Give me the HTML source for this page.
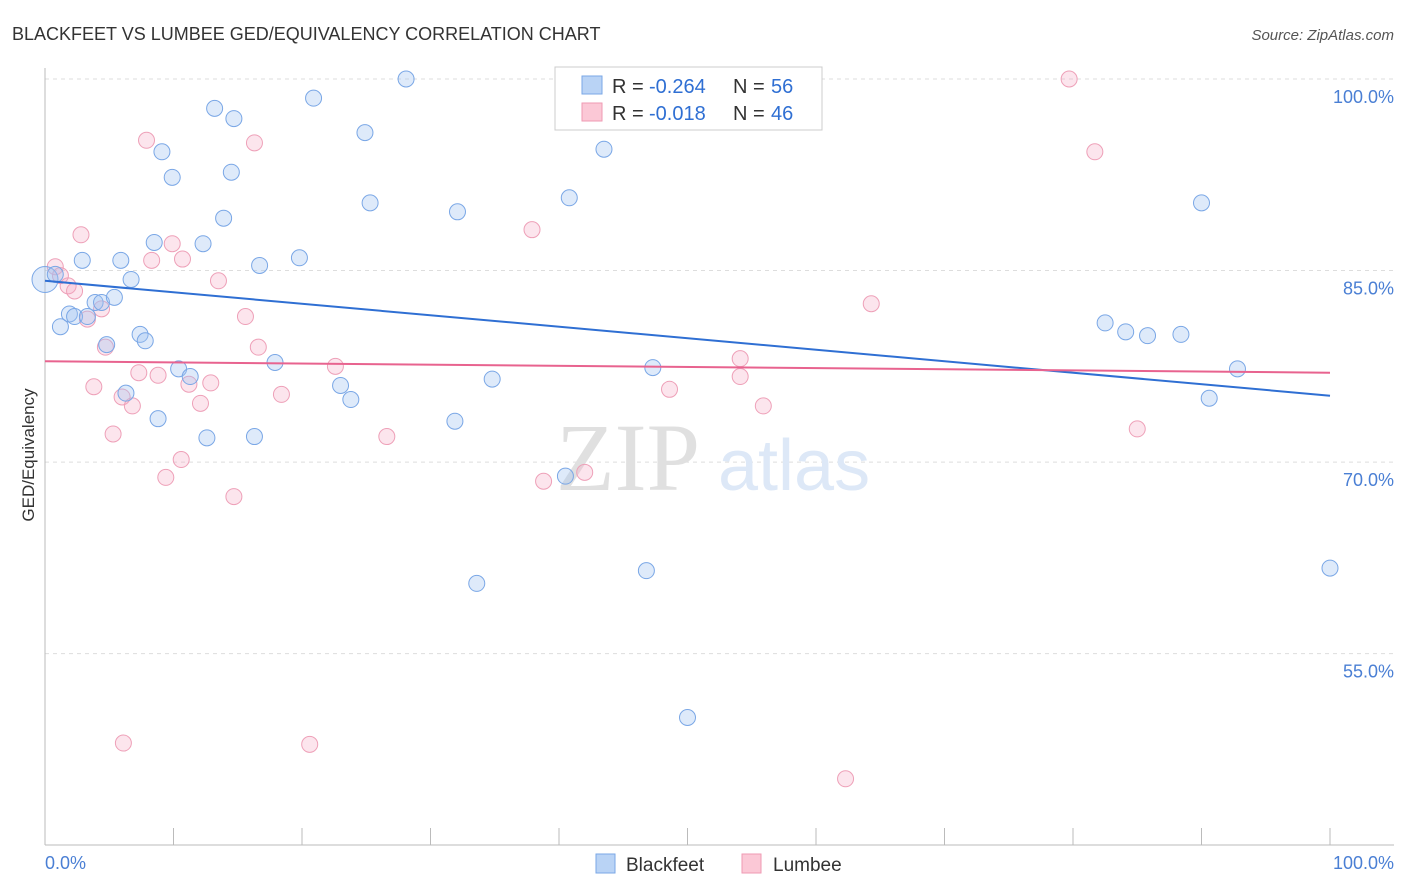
<!DOCTYPE html>
<html><head><meta charset="utf-8"><style>
body{margin:0;background:#fff;font-family:"Liberation Sans",sans-serif;}
svg{display:block}
</style></head><body>
<svg width="1406" height="892">
<text x="12" y="40" font-size="18" fill="#333">BLACKFEET VS LUMBEE GED/EQUIVALENCY CORRELATION CHART</text>
<text x="1394" y="40" font-size="15" fill="#555" font-style="italic" text-anchor="end">Source: ZipAtlas.com</text>
<g id="grid"></g>
<text x="556" y="490" font-size="96" fill="#e0e0e0" font-family="Liberation Serif">ZIP</text>
<text x="718" y="490" font-size="72" fill="#dde8f7">atlas</text>
<g id="pts"></g>
<g id="lines"></g>
<text transform="translate(34,455) rotate(-90)" font-size="17" fill="#333" text-anchor="middle">GED/Equivalency</text>
<text x="45" y="869" font-size="18" fill="#4a7fd4">0.0%</text>
<text x="1394" y="869" font-size="18" fill="#4a7fd4" text-anchor="end">100.0%</text>
<g>
<rect x="555" y="67" width="267" height="63" fill="#fff" stroke="#ccc"/>
<rect x="582" y="76" width="20" height="18" fill="#b9d3f5" stroke="#7aa7e6"/>
<rect x="582" y="103" width="20" height="18" fill="#fbc8d6" stroke="#ef9ab3"/>
<text x="612" y="93" font-size="20" fill="#333">R =</text>
<text x="649" y="93" font-size="20" fill="#2f6fd3">-0.264</text>
<text x="733" y="93" font-size="20" fill="#333">N =</text>
<text x="771" y="93" font-size="20" fill="#2f6fd3">56</text>
<text x="612" y="120" font-size="20" fill="#333">R =</text>
<text x="649" y="120" font-size="20" fill="#2f6fd3">-0.018</text>
<text x="733" y="120" font-size="20" fill="#333">N =</text>
<text x="771" y="120" font-size="20" fill="#2f6fd3">46</text>
</g>
<g>
<rect x="596" y="854" width="19" height="19" fill="#b9d3f5" stroke="#7aa7e6"/>
<text x="626" y="871" font-size="19" fill="#333">Blackfeet</text>
<rect x="742" y="854" width="19" height="19" fill="#fbc8d6" stroke="#ef9ab3"/>
<text x="773" y="871" font-size="19" fill="#333">Lumbee</text>
</g>
</svg>
<script>
const yTicks=[100,85,70,55];
const yTickLabels=["100.0%","85.0%","70.0%","55.0%"];
const blackfeetX=[0,0.8,2.9,5.9,1.2,1.9,2.3,3.3,3.9,4.4,5.4,6.7,8.5,9.1,9.9,12.3,13.2,14.7,14.5,13.9,16.7,19.8,20.9,24.9,25.3,28.1,32.1,40.8,43.5,7.4,7.8,4.8,6.3,8.8,10.4,11.3,12.6,16.3,17.9,23.0,23.8,31.9,34.8,33.6,40.5,46.8,47.3,50.0,82.5,84.1,85.8,88.4,90.0,90.6,92.8,100];
const blackfeetY=[84.3,84.7,85.8,85.8,80.6,81.6,81.4,81.4,82.5,82.5,82.9,84.3,87.2,94.3,92.3,87.1,97.7,96.9,92.7,89.1,85.4,86.0,98.5,95.8,90.3,100,89.6,90.7,94.5,80.0,79.5,79.2,75.4,73.4,77.3,76.7,71.9,72.0,77.8,76.0,74.9,73.2,76.5,60.5,68.9,61.5,77.4,50.0,80.9,80.2,79.9,80.0,90.3,75.0,77.3,61.7];
const lumbeeX=[0.8,1.2,1.8,2.3,2.8,3.3,4.4,4.7,3.8,5.3,6.0,6.8,6.1,7.3,7.9,8.3,8.8,9.4,9.9,10.7,10.6,11.2,12.1,12.9,13.5,14.7,15.6,16.3,16.6,18.4,20.6,22.6,26.6,37.9,38.8,42.0,48.6,54.1,54.1,55.9,62.3,64.3,79.7,81.7,85.0];
const lumbeeY=[85.3,84.6,83.8,83.4,87.8,81.2,82.0,79.0,75.9,72.2,75.1,74.4,48.0,77.0,95.2,85.8,76.8,68.8,87.1,85.9,70.2,76.1,74.6,76.2,84.2,67.3,81.4,95.0,79.0,75.3,47.9,77.5,72.0,88.2,68.5,69.2,75.7,78.1,76.7,74.4,45.2,82.4,100,94.3,72.6];
const blueTrend=[84.2,75.2];
const pinkTrend=[77.9,77.0];
const X=v=>45+v*12.85, Y=v=>79+(100-v)*12.77;
const NS="http://www.w3.org/2000/svg";
function mk(t,a,p){const e=document.createElementNS(NS,t);for(const k in a)e.setAttribute(k,a[k]);p.appendChild(e);return e;}
const grid=document.getElementById('grid');
yTicks.forEach((t,i)=>{
const l=mk('line',{x1:45,x2:1394,y1:Y(t),y2:Y(t),stroke:'#ddd','stroke-dasharray':'4,4'},grid);


const tx=mk('text',{x:1394,y:Y(t)+24,'font-size':18,fill:'#4a7fd4','text-anchor':'end'},grid);
tx.textContent=yTickLabels[i];


});
const ax=mk('line',{x1:45,x2:1394,y1:845,y2:845,stroke:'#bbb'},grid);


const ay=mk('line',{x1:45,x2:45,y1:68,y2:845,stroke:'#bbb'},grid);


for(let i=0;i<=10;i++){const t=mk('line',{x1:X(i*10),x2:X(i*10),y1:828,y2:845,stroke:'#bbb'},grid);

}
const pts=document.getElementById('pts');
lumbeeX.forEach((x,i)=>{const c=mk('circle',{cx:X(x),cy:Y(lumbeeY[i]),r:8,fill:'rgba(246,170,195,0.3)',stroke:'#eea0b8','stroke-width':1},pts);

});
blackfeetX.forEach((x,i)=>{const c=mk('circle',{cx:X(x),cy:Y(blackfeetY[i]),r:i==0?13:8,fill:'rgba(160,195,240,0.35)',stroke:'#7aa7e6','stroke-width':1},pts);

});
const lines=document.getElementById('lines');
const b=mk('line',{x1:X(0),x2:X(100),y1:Y(blueTrend[0]),y2:Y(blueTrend[1]),stroke:'#2f6fd3','stroke-width':2},lines);


const p=mk('line',{x1:X(0),x2:X(100),y1:Y(pinkTrend[0]),y2:Y(pinkTrend[1]),stroke:'#e8638f','stroke-width':2},lines);


</script>
</body></html>
